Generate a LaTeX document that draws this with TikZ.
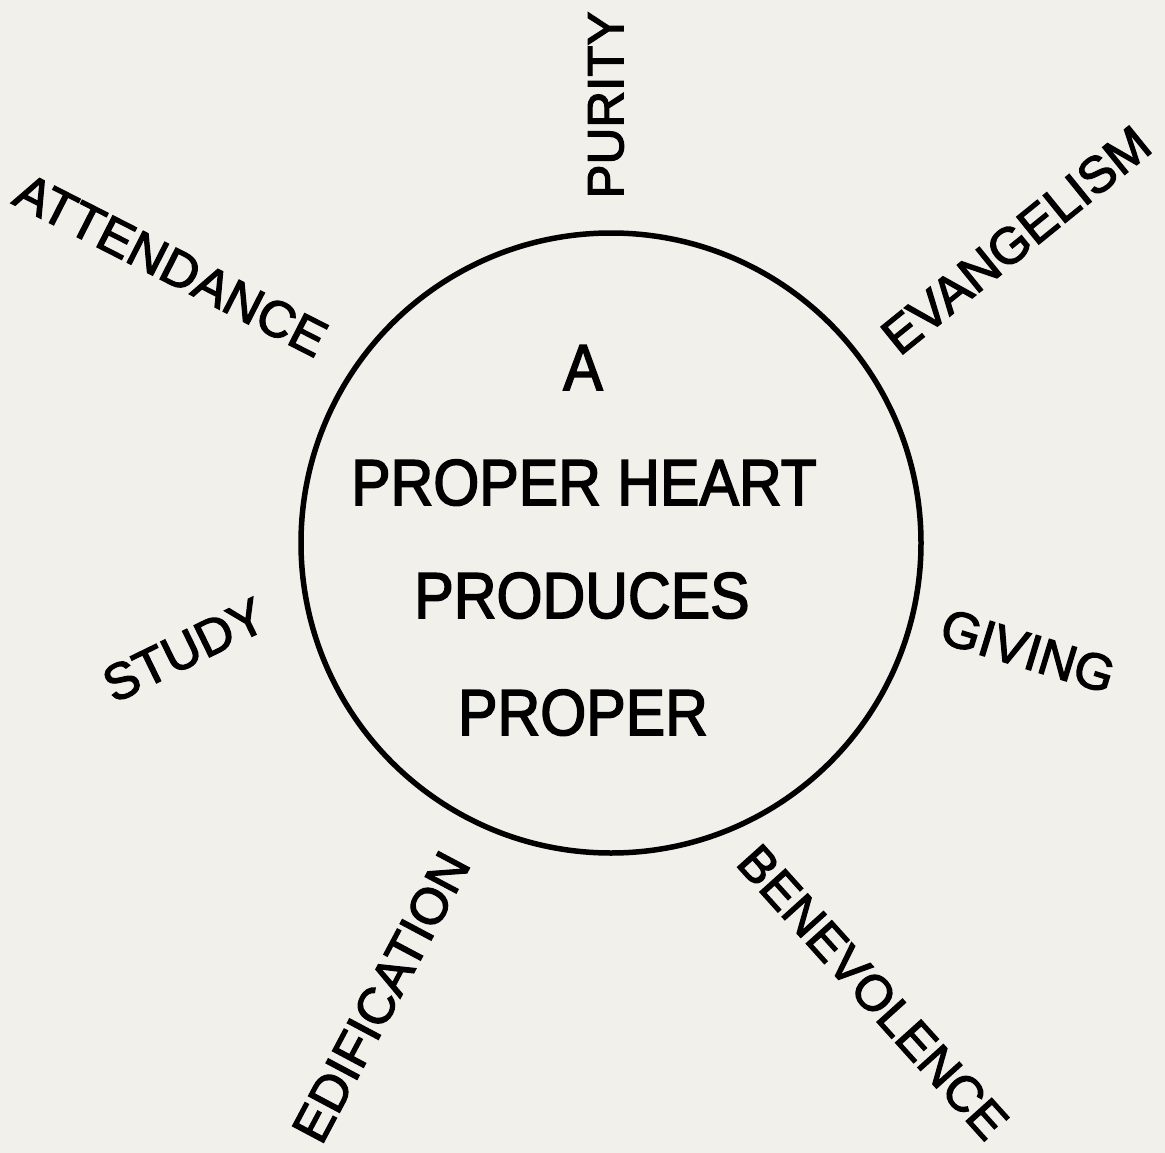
\documentclass[tikz,border=0pt]{standalone}
\usepackage{fontspec}
\setmainfont{Liberation Sans}
\newfontfamily\heavy{Liberation Sans}[FakeBold=2.5]
\definecolor{paper}{RGB}{241,240,235}
\begin{document}
\begin{tikzpicture}[x=1pt,y=-1pt,
  outer/.style={font=\heavy\fontsize{51}{51}\selectfont, inner sep=0pt, anchor=center},
  inner/.style={font=\heavy\fontsize{65}{65}\selectfont, inner sep=0pt, anchor=base}]
\fill[paper] (0,0) rectangle (1165,1153);
\useasboundingbox (0,0) rectangle (1165,1153);
\node[circle, draw, line width=5.5pt, minimum size=620pt, inner sep=0pt] (heart) at (611,543) {};
\node[inner] (l1) at (583,390) {\scalebox{0.91}[1]{A}};
\node[inner] (l2) at (584,505) {\scalebox{0.91}[1]{PROPER HEART}};
\node[inner] (l3) at (582,618) {\scalebox{0.91}[1]{PRODUCES}};
\node[inner] (l4) at (583,735) {\scalebox{0.91}[1]{PROPER}};
\node[outer, rotate=90] (purity) at (606,105) {PURITY};
\node[outer, rotate=-27] (attendance) at (171,265) {ATTENDANCE};
\node[outer, rotate=39] (evangelism) at (1016,240) {EVANGELISM};
\node[outer, rotate=-17] (giving) at (1028,651) {GIVING};
\node[outer, rotate=26] (study) at (184,650) {STUDY};
\node[outer, rotate=62] (edification) at (381,997) {EDIFICATION};
\node[outer, rotate=-48, font=\heavy\fontsize{50}{50}\selectfont] (benevolence) at (873,992) {BENEVOLENCE};
\end{tikzpicture}
\end{document}
